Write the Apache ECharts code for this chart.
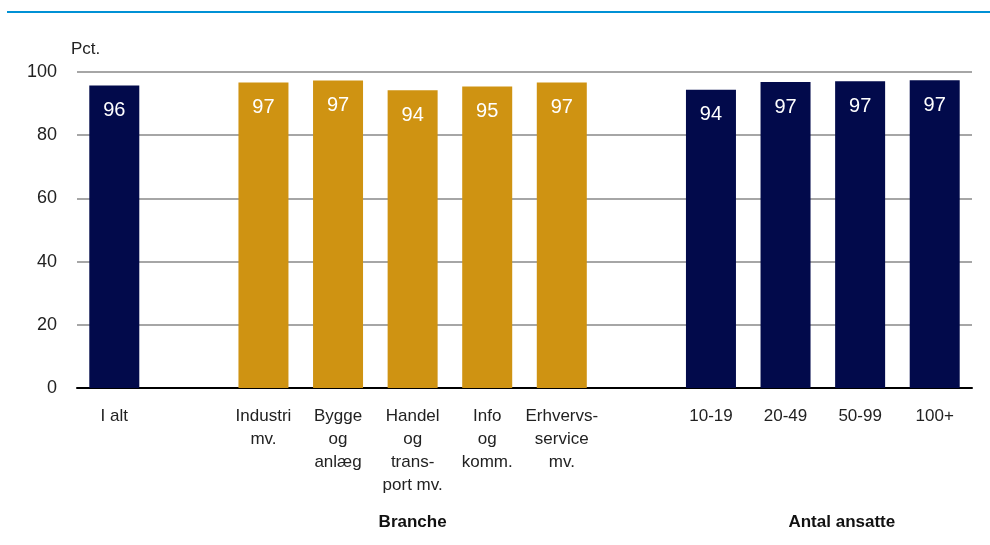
<!DOCTYPE html>
<html>
<head>
<meta charset="utf-8">
<script src="https://cdn.jsdelivr.net/npm/echarts@6/dist/echarts.min.js"></script>
<style>
  html, body { margin: 0; padding: 0; background: #fff; }
  #chart { width: 990px; height: 545px; }
</style>
</head>
<body>
<div id="chart"></div>
<script>
// categories, with empty slots as gaps between the groups
const categories = ['I alt', '', 'Industri\nmv.', 'Bygge\nog\nanlæg', 'Handel\nog\ntrans-\nport mv.', 'Info\nog\nkomm.', 'Erhvervs-\nservice\nmv.', '', '10-19', '20-49', '50-99', '100+'];
const values = [95.7, '-', 96.7, 97.3, 94.2, 95.4, 96.7, '-', 94.4, 96.8, 97.1, 97.4];
const groups = ['total', null, 'branche', 'branche', 'branche', 'branche', 'branche', null, 'size', 'size', 'size', 'size'];
const yTicks = [0, 20, 40, 60, 80, 100];
const groupTitles = ['Branche', 'Antal ansatte'];

const FONT = "'Liberation Sans Narrow', 'Liberation Sans', Arial, sans-serif";
const colors = { total: '#020a4b', branche: '#cf9312', size: '#020a4b' };

const chart = echarts.init(document.getElementById('chart'));

var option = {
  animation: false,
  grid: { left: 77, right: 18, top: 72, bottom: 157 },
  xAxis: {
    type: 'category',
    data: categories,
    axisTick: { show: false },
    axisLine: { lineStyle: { color: '#000', width: 2 } },
    axisLabel: {
      interval: 0,
      margin: 17,
      color: '#222',
      fontFamily: FONT,
      fontSize: 17,
      lineHeight: 23,
      align: 'center'
    }
  },
  yAxis: {
    type: 'value',
    min: yTicks[0],
    max: yTicks[yTicks.length - 1],
    interval: 20,
    name: 'Pct.',
    nameLocation: 'end',
    nameGap: 14,
    nameTextStyle: { color: '#222', fontFamily: FONT, fontSize: 17, align: 'left', padding: [0, 0, 0, -6] },
    axisLine: { show: false },
    axisTick: { show: false },
    axisLabel: { margin: 20, color: '#222', fontFamily: FONT, fontSize: 18 },
    splitLine: { lineStyle: { color: '#a6a6a6', width: 2 } }
  },
  series: [{
    type: 'bar',
    barWidth: 50,
    data: values.map(function (v, i) {
      return { value: v, itemStyle: { color: groups[i] ? colors[groups[i]] : 'transparent' } };
    }),
    label: {
      show: true,
      position: 'insideTop',
      distance: 15,
      color: '#fff',
      fontFamily: FONT,
      fontSize: 20,
      formatter: function (p) { return Math.round(p.value); }
    }
  }]
};

chart.setOption(option);

// top rule and group titles under the category labels
var xBranche = chart.convertToPixel({ xAxisIndex: 0 }, categories[4]);
var xSize = (chart.convertToPixel({ xAxisIndex: 0 }, categories[9]) + chart.convertToPixel({ xAxisIndex: 0 }, categories[10])) / 2 + 19;
chart.setOption({
  graphic: [{
    type: 'line',
    shape: { x1: 7, y1: 12, x2: 990, y2: 12 },
    style: { stroke: '#0091d5', lineWidth: 2 }
  }, {
    type: 'text', x: xBranche, y: 522,
    style: { text: groupTitles[0], fill: '#111', font: 'bold 17px ' + FONT, align: 'center', verticalAlign: 'middle' }
  }, {
    type: 'text', x: xSize, y: 522,
    style: { text: groupTitles[1], fill: '#111', font: 'bold 17px ' + FONT, align: 'center', verticalAlign: 'middle' }
  }]
});
</script>
</body>
</html>
